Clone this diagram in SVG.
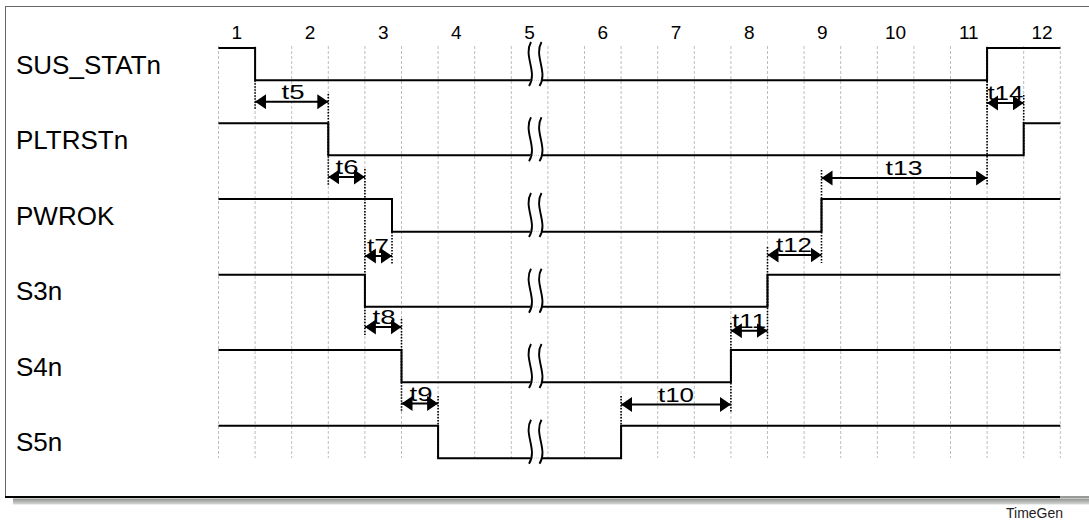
<svg xmlns="http://www.w3.org/2000/svg" width="1089" height="520" viewBox="0 0 1089 520">
<style>
.lbl{font-family:"Liberation Sans",Arial,sans-serif;font-size:26px;fill:#000}
.num{font-family:"Liberation Sans",Arial,sans-serif;font-size:19px;fill:#000;text-anchor:middle}
.tl{font-family:"Liberation Sans",Arial,sans-serif;font-size:21px;fill:#000;text-anchor:middle}
.grid{stroke:#bdbdbd;stroke-width:1;stroke-dasharray:3 2}
.sig{fill:none;stroke:#000;stroke-width:2}
.dot{fill:none;stroke:#000;stroke-width:1.6;stroke-dasharray:1.5 1.5}
.arr{fill:none;stroke:#000;stroke-width:2;marker-start:url(#ah);marker-end:url(#ah)}
.brkc{fill:none;stroke:#000;stroke-width:1.9}
</style>
<defs>
<marker id="ah" markerUnits="userSpaceOnUse" markerWidth="12" markerHeight="16" refX="11" refY="7.5" orient="auto-start-reverse">
<path d="M0,0 L11,7.5 L0,15 Z" fill="#000"/>
</marker>
<linearGradient id="sh" x1="0" y1="0" x2="0" y2="1">
<stop offset="0" stop-color="#8e928e"/>
<stop offset="1" stop-color="#d8dad8"/>
</linearGradient>
<g id="brk">
<path d="M531,0 C523,14 538,30 529,44 L539.5,44 C548.5,30 533.5,14 541.5,0 Z" fill="#fff"/>
<line x1="530" y1="38.3" x2="541" y2="38.3" stroke="#c8c8c8" stroke-width="1" stroke-dasharray="1 1"/>
<path class="brkc" d="M531,0 C523,14 538,30 529,44"/>
<path class="brkc" d="M541.5,0 C533.5,14 548.5,30 539.5,44"/>
</g>
</defs>
<rect x="0" y="0" width="1089" height="520" fill="#fff"/>
<g id="frame">
<rect x="13" y="498.5" width="1076" height="6" fill="url(#sh)"/>
<line x1="5" y1="6.5" x2="1089" y2="6.5" stroke="#666" stroke-width="1"/>
<line x1="5.5" y1="6.5" x2="5.5" y2="497" stroke="#666" stroke-width="1"/>
<line x1="5" y1="497" x2="1060" y2="497" stroke="#000" stroke-width="2"/>
<line x1="1060" y1="497" x2="1089" y2="497" stroke="#777" stroke-width="1.5"/>
</g>
<g id="grid">
<line class="grid" x1="218.5" y1="46" x2="218.5" y2="458"/>
<line class="grid" x1="255.1" y1="46" x2="255.1" y2="458"/>
<line class="grid" x1="291.7" y1="46" x2="291.7" y2="458"/>
<line class="grid" x1="328.3" y1="46" x2="328.3" y2="458"/>
<line class="grid" x1="364.9" y1="46" x2="364.9" y2="458"/>
<line class="grid" x1="401.5" y1="46" x2="401.5" y2="458"/>
<line class="grid" x1="438.1" y1="46" x2="438.1" y2="458"/>
<line class="grid" x1="474.7" y1="46" x2="474.7" y2="458"/>
<line class="grid" x1="511.3" y1="46" x2="511.3" y2="458"/>
<line class="grid" x1="547.9" y1="46" x2="547.9" y2="458"/>
<line class="grid" x1="584.5" y1="46" x2="584.5" y2="458"/>
<line class="grid" x1="621.1" y1="46" x2="621.1" y2="458"/>
<line class="grid" x1="657.7" y1="46" x2="657.7" y2="458"/>
<line class="grid" x1="694.3" y1="46" x2="694.3" y2="458"/>
<line class="grid" x1="730.9" y1="46" x2="730.9" y2="458"/>
<line class="grid" x1="767.5" y1="46" x2="767.5" y2="458"/>
<line class="grid" x1="804.1" y1="46" x2="804.1" y2="458"/>
<line class="grid" x1="840.7" y1="46" x2="840.7" y2="458"/>
<line class="grid" x1="877.3" y1="46" x2="877.3" y2="458"/>
<line class="grid" x1="913.9" y1="46" x2="913.9" y2="458"/>
<line class="grid" x1="950.5" y1="46" x2="950.5" y2="458"/>
<line class="grid" x1="987.1" y1="46" x2="987.1" y2="458"/>
<line class="grid" x1="1023.7" y1="46" x2="1023.7" y2="458"/>
<line class="grid" x1="1060.3" y1="46" x2="1060.3" y2="458" stroke="#e2e2e2"/>
</g>
<g id="numbers">
<text class="num" x="236.8" y="39">1</text>
<text class="num" x="310" y="39">2</text>
<text class="num" x="383.2" y="39">3</text>
<text class="num" x="456.4" y="39">4</text>
<text class="num" x="529.6" y="39">5</text>
<text class="num" x="602.8" y="39">6</text>
<text class="num" x="676" y="39">7</text>
<text class="num" x="749.2" y="39">8</text>
<text class="num" x="822.4" y="39">9</text>
<text class="num" x="895.6" y="39">10</text>
<text class="num" x="968.8" y="39">11</text>
<text class="num" x="1042" y="39">12</text>
</g>
<g id="SUS_STATn">
<text class="lbl" x="16" y="74">SUS_STATn</text>
<path class="sig" d="M218.5,48 H255.1 V80.3 H987.1 V48 H1060.3"/>
</g>
<g id="PLTRSTn">
<text class="lbl" x="16" y="149.3">PLTRSTn</text>
<path class="sig" d="M218.5,123.3 H328.3 V155.3 H1023.7 V123.3 H1060.3"/>
</g>
<g id="PWROK">
<text class="lbl" x="16" y="225">PWROK</text>
<path class="sig" d="M218.5,199 H392 V231.7 H821.5 V199 H1060.3"/>
</g>
<g id="S3n">
<text class="lbl" x="16" y="300">S3n</text>
<path class="sig" d="M218.5,274.7 H364.9 V306.7 H767.5 V274.7 H1060.3"/>
</g>
<g id="S4n">
<text class="lbl" x="16" y="375.5">S4n</text>
<path class="sig" d="M218.5,350 H401.5 V382.3 H730.9 V350 H1060.3"/>
</g>
<g id="S5n">
<text class="lbl" x="16" y="450.7">S5n</text>
<path class="sig" d="M218.5,425.7 H438.1 V458.3 H621.1 V425.7 H1060.3"/>
</g>
<g id="breaks">
<use href="#brk" transform="translate(0,42)"/>
<use href="#brk" transform="translate(0,117.3)"/>
<use href="#brk" transform="translate(0,193)"/>
<use href="#brk" transform="translate(0,268.7)"/>
<use href="#brk" transform="translate(0,344)"/>
<use href="#brk" transform="translate(0,419.7)"/>
</g>
<g id="connectors">
<path class="dot" d="M255.1,80.3 V110 M328.3,94 V155.3"/>
<path class="arr" d="M255.1,101.7 H328.3"/>
<text class="tl" x="293" y="98.5" textLength="23" lengthAdjust="spacingAndGlyphs">t5</text>
<path class="dot" d="M328.3,123.3 V185 M364.9,169 V306.7"/>
<path class="arr" d="M328.3,177 H364.9"/>
<text class="tl" x="347" y="174" textLength="23" lengthAdjust="spacingAndGlyphs">t6</text>
<path class="dot" d="M392,199 V264"/>
<path class="arr" d="M364.9,256 H392"/>
<text class="tl" x="378" y="253" textLength="22" lengthAdjust="spacingAndGlyphs">t7</text>
<path class="dot" d="M364.9,306.7 V335 M401.5,319 V382.3"/>
<path class="arr" d="M364.9,327 H401.5"/>
<text class="tl" x="384" y="324" textLength="23" lengthAdjust="spacingAndGlyphs">t8</text>
<path class="dot" d="M401.5,382.3 V411.5 M438.1,396 V458.3"/>
<path class="arr" d="M401.5,403.5 H438.1"/>
<text class="tl" x="421" y="400.5" textLength="23" lengthAdjust="spacingAndGlyphs">t9</text>
<path class="dot" d="M621.1,396 V458.3 M730.9,350 V412.5"/>
<path class="arr" d="M621.1,404.5 H730.9"/>
<text class="tl" x="676" y="401.5" textLength="36" lengthAdjust="spacingAndGlyphs">t10</text>
<path class="dot" d="M730.9,323 V382.3 M767.5,274.7 V339"/>
<path class="arr" d="M730.9,330.7 H767.5"/>
<text class="tl" x="749" y="327.7" textLength="34" lengthAdjust="spacingAndGlyphs">t11</text>
<path class="dot" d="M767.5,247 V306.7 M821.5,199 V263"/>
<path class="arr" d="M767.5,255 H821.5"/>
<text class="tl" x="794" y="252" textLength="36" lengthAdjust="spacingAndGlyphs">t12</text>
<path class="dot" d="M821.5,170 V231.7 M987.1,48 V186"/>
<path class="arr" d="M821.5,178 H987.1"/>
<text class="tl" x="904" y="175" textLength="37" lengthAdjust="spacingAndGlyphs">t13</text>
<path class="dot" d="M987.1,48 V111 M1023.7,95 V155.3"/>
<path class="arr" d="M987.1,103 H1023.7"/>
<text class="tl" x="1005.4" y="100" textLength="36" lengthAdjust="spacingAndGlyphs">t14</text>
</g>
<text x="1006" y="518" font-family="Liberation Sans, Arial, sans-serif" font-size="14" fill="#222">TimeGen</text>
</svg>
